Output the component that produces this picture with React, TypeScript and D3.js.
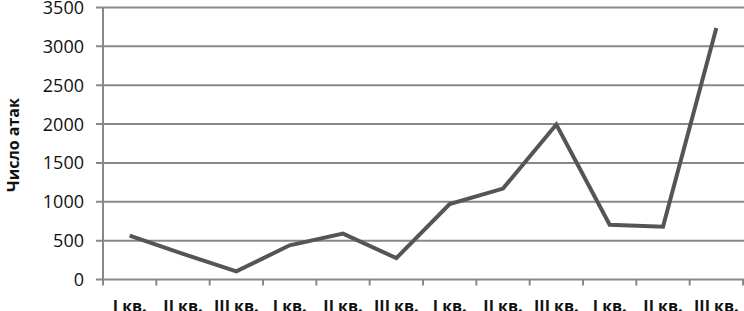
import React from 'react';
import * as d3 from 'd3';

const quarters = ['I кв.', 'II кв.', 'III кв.', 'I кв.', 'II кв.', 'III кв.', 'I кв.', 'II кв.', 'III кв.', 'I кв.', 'II кв.', 'III кв.'];
const attacks = [565, 330, 105, 440, 590, 275, 970, 1170, 1995, 705, 680, 3235];
const yTicks = [0, 500, 1000, 1500, 2000, 2500, 3000, 3500];

const W = 744;
const H = 311;
const margin = { left: 103, right: 1, top: 7.5, bottom: 31.5 };

export default function App() {
  const ids = quarters.map((_, i) => i);
  const x = d3.scaleBand<number>().domain(ids).range([margin.left, W - margin.right]);
  const y = d3.scaleLinear().domain([0, 3500]).range([H - margin.bottom, margin.top]);

  const line = d3.line<number>()
    .x((_, i) => x(i)! + x.bandwidth() / 2)
    .y(d => y(d));

  const grid = '#888888';

  return (
    <svg width={W} height={H} style={{ position: 'absolute', left: 0, top: 0, background: '#fff' }}
      fontFamily="'Open Sans', sans-serif">
      {/* сетка и подписи оси Y */}
      {yTicks.map(t => (
        <g key={t}>
          <line x1={margin.left - 7} x2={W} y1={y(t)} y2={y(t)} stroke={grid} strokeWidth={2} />
          <text x={84} y={y(t)} dy="0.36em" textAnchor="end" fontSize={18} fill="#111">{t}</text>
        </g>
      ))}
      <line x1={margin.left} x2={margin.left} y1={y(3500)} y2={y(0) + 6} stroke={grid} strokeWidth={2} />

      {/* засечки и подписи оси X */}
      {ids.map(i => (
        <g key={i}>
          <line x1={x(i)! + x.bandwidth()} x2={x(i)! + x.bandwidth()} y1={y(0)} y2={y(0) + 6} stroke={grid} strokeWidth={2} />
          <text x={x(i)! + x.bandwidth() / 2} y={312} textAnchor="middle" fontSize={16} fontWeight="bold" fill="#111">
            {quarters[i]}
          </text>
        </g>
      ))}

      <path d={line(attacks) ?? ''} fill="none" stroke="#555555" strokeWidth={4} strokeLinejoin="miter" />

      <text transform={`translate(19,145) rotate(-90)`} textAnchor="middle" fontSize={16} fontWeight="bold" fill="#111">
        Число атак
      </text>
    </svg>
  );
}
